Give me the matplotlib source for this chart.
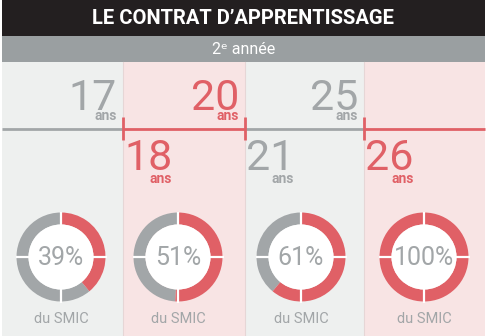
import matplotlib.pyplot as plt
from matplotlib.patches import Rectangle, Wedge, Circle
import numpy as np

plt.rcParams['font.family'] = ['Roboto', 'DejaVu Sans']

title = "LE CONTRAT D\u2019APPRENTISSAGE"
subtitle = "2\u1d49 ann\u00e9e"
ages_upper = [17, 20, 25]
ages_lower = [18, 21, 26]
pcts = [39, 51, 61, 100]
pct_labels = ["39%", "51%", "61%", "100%"]
unit_label = "du SMIC"

W, H = 487, 336
RED = '#e06066'
GREY = '#a2a6a8'
BG = ['#eef0ef', '#f8e4e4', '#eef0ef', '#f8e4e4']

fig = plt.figure(figsize=(W / 100, H / 100), dpi=100)
ax = fig.add_axes([0, 0, 1, 1])
ax.set_xlim(0, W)
ax.set_ylim(H, 0)
ax.axis('off')

left, right = 2, 485
col_edges = [left, 123, 245, 364, right]

# bandeaux du haut
ax.add_patch(Rectangle((left, 0), right - left, 36, color='#231f20', lw=0))
ax.add_patch(Rectangle((left, 36), right - left, 26, color='#9a9fa1', lw=0))
ax.text((left + right) / 2, 19, title, color='white', fontsize=14.5,
        fontweight='bold', ha='center', va='center')
ax.text((left + right) / 2, 49, subtitle, color='white', fontsize=11.5,
        ha='center', va='center')

# colonnes
for i in range(4):
    x0, x1 = col_edges[i], col_edges[i + 1]
    ax.add_patch(Rectangle((x0, 62), x1 - x0, H - 62, color=BG[i], lw=0))
for x in col_edges[1:-1]:
    ax.plot([x, x], [62, H], color='#e6d6d6', lw=0.8, zorder=1)

# frise
line_y = 129
for i in range(4):
    c = GREY if i % 2 == 0 else RED
    ax.plot([col_edges[i], col_edges[i + 1]], [line_y, line_y], color=c, lw=2, zorder=2,
            solid_capstyle='butt')
for x in col_edges[1:-1]:
    ax.plot([x, x], [117, 140], color=RED, lw=2, zorder=3, solid_capstyle='butt')

for i, a in enumerate(ages_upper):
    x = col_edges[i + 1] - 6
    c = GREY if i % 2 == 0 else RED
    ax.text(x, 110, str(a), color=c, fontsize=31,
            ha='right', va='baseline')
    ax.text(x, 120, 'ans', color=c, fontsize=10, fontweight='bold',
            ha='right', va='baseline')

for i, a in enumerate(ages_lower):
    x = col_edges[i + 1] + 1
    c = RED if i % 2 == 0 else GREY
    t = ax.text(x, 170, str(a), color=c, fontsize=31,
                ha='left', va='baseline')
    fig.canvas.draw()
    bb = t.get_window_extent().transformed(ax.transData.inverted())
    ax.text(bb.x1, 183, 'ans', color=c, fontsize=10, fontweight='bold',
            ha='right', va='baseline')

# anneaux
centers = [61, 178, 301, 424]
cy = 257
r_out, width = 44.5, 12
for cx, p, lab in zip(centers, pcts, pct_labels):
    # y inversé : angles dans le sens horaire depuis le haut
    end = -90 + 360 * p / 100
    if p < 100:
        ax.add_patch(Wedge((cx, cy), r_out, end, 270, width=width, color=GREY, lw=0))
    ax.add_patch(Wedge((cx, cy), r_out, -90, end, width=width, color=RED, lw=0))
    for ang in [0, 90, 180, 270]:
        th = np.deg2rad(ang)
        ax.plot([cx + (r_out - width - 1) * np.cos(th), cx + (r_out + 1) * np.cos(th)],
                [cy + (r_out - width - 1) * np.sin(th), cy + (r_out + 1) * np.sin(th)],
                color='white', lw=1.6, zorder=4, solid_capstyle='butt')
    ax.add_patch(Circle((cx, cy), r_out - width, color='white', lw=0, zorder=3))
    ax.text(cx, cy + 1, lab, color=GREY, fontsize=18,
            ha='center', va='center', zorder=5)
    ax.text(cx, 319, unit_label, color=GREY, fontsize=10.5,
            ha='center', va='center')

fig.savefig('out.png', dpi=100)
